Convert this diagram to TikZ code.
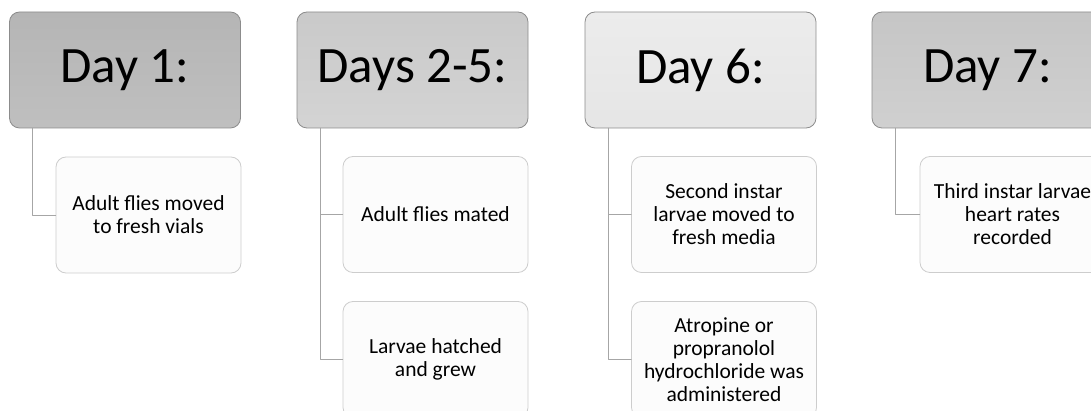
\documentclass[tikz,border=0pt]{standalone}
\usepackage{fontspec}
\setmainfont{Carlito}
\usepackage{tikz,pgf}
\usetikzlibrary{positioning}

\definecolor{hdrline}{HTML}{8C8C8C}
\definecolor{boxline}{HTML}{CDCDCD}
\definecolor{boxfill}{HTML}{FCFCFC}
\definecolor{conline}{HTML}{A6A6A6}

\tikzset{
	daybox/.style 2 args={draw=hdrline,line width=0.8pt,rounded corners=10pt,minimum width=231pt,minimum height=116pt,top color=#1,bottom color=#2,font=\fontsize{51}{56}\selectfont},
	stepbox/.style={draw=boxline,fill=boxfill,line width=0.8pt,rounded corners=10pt,minimum width=185pt,minimum height=116pt,align=center,font=\fontsize{21.5}{23}\selectfont},
	link/.style={draw=conline,line width=0.9pt}
}

\begin{document}
\begin{tikzpicture}[x=1pt,y=-1pt,line cap=round,line join=round]
				\useasboundingbox (0,0) rectangle (1091,411);
				\clip (0,0) rectangle (1091,411);
				
				\node[daybox={gray!58}{gray!50}] (day1) at (125,70) {Day 1:};
				\node[daybox={gray!42}{gray!34}] (day2) at (412.5,70) {Days 2-5:};
				\node[daybox={gray!15}{gray!20}] (day6) at (700.5,70) {Day 6:};
				\node[daybox={gray!45}{gray!37}] (day7) at (987.5,70) {Day 7:};
				
				\node[stepbox] (moved) at (148.5,215) {Adult flies moved\\to fresh vials};
				
				\node[stepbox] (mated) at (435.5,214.5) {Adult flies mated};
				\node[stepbox] (hatched) at (435.5,359.5) {Larvae hatched\\and grew};
				
				\node[stepbox] (second) at (724,214.5) {Second instar\\larvae moved to\\fresh media};
				\node[stepbox] (drug) at (724,359.5) {Atropine or\\propranolol\\hydrochloride was\\administered};
				
				\node[stepbox] (third) at (1012.5,214.5) {Third instar larvae\\heart rates\\recorded};
				
				\draw[link] (day1.south west) ++(23,0) |- (moved.west);
				\draw[link] (day2.south west) ++(24,0) |- (mated.west);
				\draw[link] (day2.south west) ++(24,0) |- (hatched.west);
				\draw[link] (day6.south west) ++(24,0) |- (second.west);
				\draw[link] (day6.south west) ++(24,0) |- (drug.west);
				\draw[link] (day7.south west) ++(24,0) |- (third.west);
\end{tikzpicture}
\end{document}
